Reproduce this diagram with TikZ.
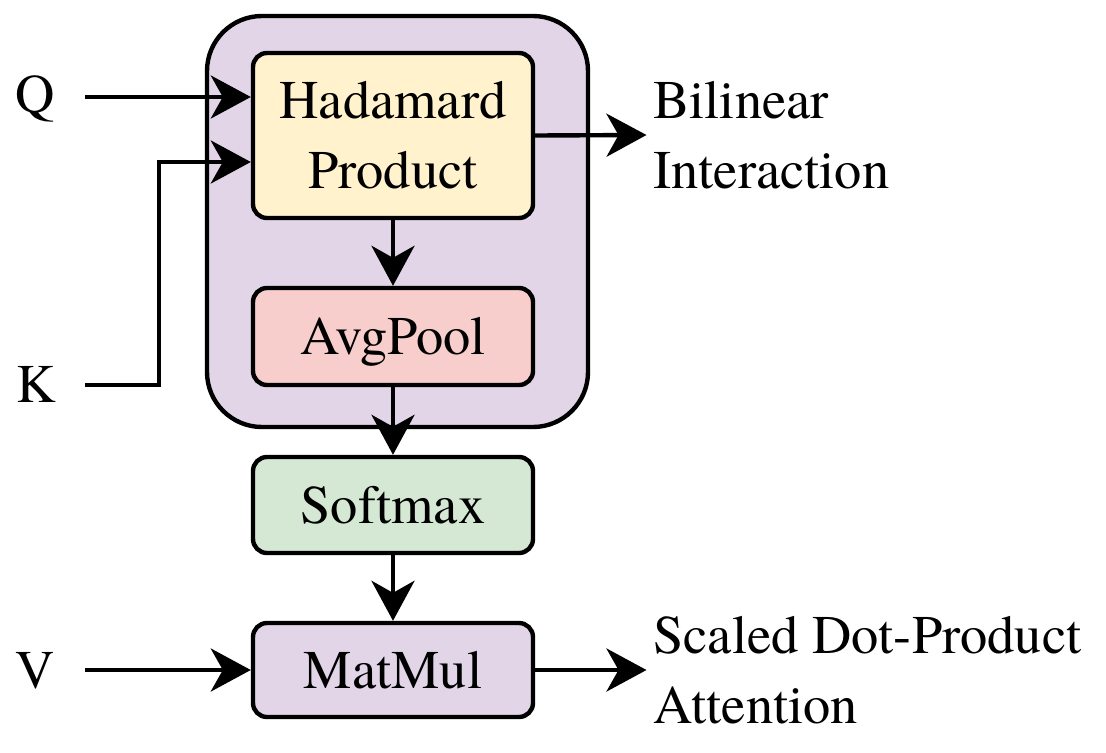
\documentclass[tikz,border=0pt]{standalone}
\usepackage{fontspec}
\setmainfont{TeX Gyre Termes}
\usetikzlibrary{arrows.meta}

\definecolor{lilac}{HTML}{E1D5E7}
\definecolor{cream}{HTML}{FFF2CC}
\definecolor{rose}{HTML}{F8CECC}
\definecolor{mint}{HTML}{D5E8D4}

\tikzstyle{block}=[draw, line width=2.5pt, rounded corners=0.28cm, minimum width=5.6cm, align=center]
\tikzstyle{oneline}=[block, text height=20.5pt, text depth=0pt]
\tikzstyle{flow}=[line width=2.5pt, -{Stealth[length=0.8cm,width=0.86cm,inset=0.24cm]}]
\tikzstyle{outtxt}=[anchor=west, align=left, inner sep=0.13cm]

\begin{document}
\begin{tikzpicture}[font=\fontsize{31}{39.7}\selectfont]
\useasboundingbox (0,0) rectangle (22.12,-15.04);

\node[draw, line width=2.5pt, fill=lilac, rounded corners=1.1cm, minimum width=7.62cm, minimum height=8.22cm] (attn) at (7.95,-4.43) {};

\node[block, fill=cream, minimum height=3.3cm] (hp) at (7.86,-2.71) {Hadamard\\Product};
\node[oneline, fill=rose, minimum height=1.94cm] (ap) at (7.86,-6.73) {AvgPool};
\node[oneline, fill=mint, minimum height=1.92cm] (sm) at (7.86,-10.1) {Softmax};
\node[oneline, fill=lilac, minimum height=1.88cm] (mm) at (7.86,-13.4) {MatMul};

\node[anchor=base] (q) at (0.7,-2.24) {Q};
\node[anchor=base] (k) at (0.72,-8.04) {K};
\node[anchor=base] (v) at (0.7,-13.77) {V};
\coordinate (qin) at (1.7,-1.94);
\coordinate (kin) at (1.7,-7.7);
\coordinate (kbend) at (3.18,-3.24);
\coordinate (vin) at (1.7,-13.4);

\node[outtxt] (bil) at (12.93,-2.7) {Bilinear\\Interaction};
\node[outtxt] (sdp) at (12.93,-13.4) {Scaled Dot-Product\\Attention};

\draw[flow] (qin) -- (qin -| hp.west);
\draw[flow] (kin) -| (kbend) -- (kbend -| hp.west);
\draw[flow] (vin) -- (mm.west);
\draw[flow] (hp.south) -- (ap.north);
\draw[flow] (ap.south) -- (sm.north);
\draw[flow] (sm.south) -- (mm.north);
\draw[flow] (hp.east) -- (bil.west);
\draw[flow] (mm.east) -- (sdp.west);
\end{tikzpicture}
\end{document}
